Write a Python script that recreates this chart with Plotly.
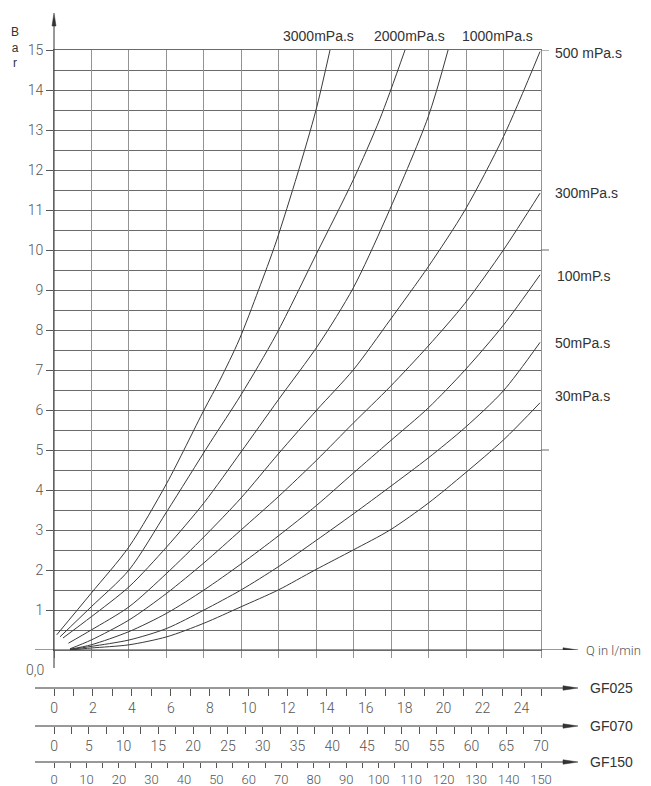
import plotly.graph_objects as go

# ---------------- data ----------------
# Q in l/min (GF025 scale), P in bar
q_3000 = [0.14, 1.91, 3.85, 5.79, 7.70, 8.52, 9.50, 10.50, 11.40, 12.50, 13.45, 14.17]
p_3000 = [0.38, 1.42, 2.58, 4.17, 6.00, 6.75, 7.75, 9.00, 10.20, 11.90, 13.50, 15.00]

q_2000 = [0.31, 1.91, 3.85, 5.79, 8.01, 9.60, 11.40, 13.49, 15.36, 16.74, 18.02]
p_2000 = [0.33, 1.08, 2.00, 3.46, 5.18, 6.38, 7.88, 9.92, 11.75, 13.29, 15.00]

q_1000 = [0.46, 1.91, 3.85, 5.79, 7.70, 9.60, 11.51, 13.60, 15.36, 17.00, 19.21, 20.23]
p_1000 = [0.30, 0.83, 1.58, 2.58, 3.68, 4.95, 6.25, 7.65, 9.05, 10.75, 13.33, 15.00]

q_500 = [0.74, 1.91, 3.85, 5.79, 7.70, 9.60, 11.51, 13.49, 15.36, 17.25, 19.21, 21.10, 23.07, 24.95]
p_500 = [0.17, 0.50, 1.08, 1.92, 2.83, 3.80, 4.90, 6.00, 7.00, 8.25, 9.58, 11.00, 12.83, 14.96]

q_300 = [0.82, 1.91, 3.85, 5.79, 7.70, 9.60, 11.51, 13.49, 15.36, 17.25, 19.21, 21.10, 23.07, 24.95]
p_300 = [0.03, 0.25, 0.75, 1.42, 2.18, 3.00, 3.83, 4.75, 5.67, 6.58, 7.60, 8.67, 10.00, 11.42]

q_100 = [0.82, 1.91, 3.85, 5.79, 7.70, 9.60, 11.51, 13.49, 15.36, 17.25, 19.21, 21.10, 23.07, 24.95]
p_100 = [0.02, 0.13, 0.46, 0.92, 1.50, 2.15, 2.85, 3.62, 4.42, 5.22, 6.05, 7.00, 8.12, 9.38]

q_50 = [0.82, 1.91, 3.85, 5.79, 7.70, 9.60, 11.51, 13.49, 15.36, 17.25, 19.21, 21.10, 23.07, 24.95]
p_50 = [0.01, 0.09, 0.25, 0.54, 1.00, 1.50, 2.08, 2.75, 3.40, 4.08, 4.80, 5.56, 6.48, 7.69]

q_30 = [0.85, 1.91, 3.85, 5.79, 7.70, 9.60, 11.51, 13.40, 15.36, 17.25, 19.21, 21.10, 23.07, 24.95]
p_30 = [0.00, 0.05, 0.13, 0.33, 0.67, 1.08, 1.50, 2.00, 2.50, 3.00, 3.67, 4.42, 5.25, 6.18]

curves = [
    (q_3000, p_3000), (q_2000, p_2000), (q_1000, p_1000), (q_500, p_500),
    (q_300, p_300), (q_100, p_100), (q_50, p_50), (q_30, p_30),
]

top_labels = ["3000mPa.s", "2000mPa.s", "1000mPa.s"]
right_labels = ["500 mPa.s", "300mPa.s", "100mP.s", "50mPa.s", "30mPa.s"]

y_ticks = [1, 2, 3, 4, 5, 6, 7, 8, 9, 10, 11, 12, 13, 14, 15]
gf025_labels = [0, 2, 4, 6, 8, 10, 12, 14, 16, 18, 20, 22, 24]
gf070_labels = [0, 5, 10, 15, 20, 25, 30, 35, 40, 45, 50, 55, 60, 65, 70]
gf150_labels = [0, 10, 20, 30, 40, 50, 60, 70, 80, 90, 100, 110, 120, 130, 140, 150]

Q_MAX = 25
P_MAX = 15
N_COLS = 13  # vertical grid columns

# ---------------- layout geometry (page pixels) ----------------
BODY = 8                   # default page margin of the html body
W, H = 651 - BODY, 786 - BODY
PLOT_L, PLOT_R, PLOT_T, PLOT_B = 54, 541, 50, 762   # paper box in page pixels
PW = PLOT_R - PLOT_L
PH = PLOT_B - PLOT_T

def px_x(px):
    return (px - PLOT_L) / PW

def px_y(py):
    return (PLOT_B - py) / PH

top_label_px = [(318, 36), (409, 36), (497, 36)]
right_label_px = [(553, 53), (553, 193), (555, 276), (553, 342.5), (553, 396)]

TICK_FONT = dict(family="Roboto", size=14, color="#555555", weight=300)
LABEL_FONT = dict(family="Liberation Sans", size=14, color="#333333")
LINE_C = "#333333"
HGRID = "#6a6a6a"
VGRID = "#939393"

fig = go.Figure()
for q, p in curves:
    fig.add_trace(go.Scatter(x=q, y=p, mode="lines",
                             line=dict(color="#3a3a3a", width=1, shape="spline", smoothing=0.8),
                             showlegend=False, hoverinfo="skip"))
for ax in ["x2", "x3", "x4"]:
    fig.add_trace(go.Scatter(x=[], y=[], xaxis=ax, yaxis="y", showlegend=False))

fig.update_layout(
    width=W, height=H,
    margin=dict(l=PLOT_L - BODY, r=W - (PLOT_R - BODY), t=PLOT_T - BODY, b=H - (PLOT_B - BODY),
                autoexpand=False),
    paper_bgcolor="white", plot_bgcolor="white",
    showlegend=False,
    xaxis=dict(
        range=[0, Q_MAX], domain=[0, 1], automargin=False,
        tickmode="array", tickvals=[i * Q_MAX / N_COLS for i in range(N_COLS + 1)],
        showticklabels=False, ticks="outside", ticklen=7, tickcolor=VGRID,
        showgrid=True, gridcolor=VGRID, gridwidth=1, zeroline=False,
        showline=True, mirror=True, linecolor=HGRID, linewidth=1,
    ),
    yaxis=dict(
        range=[0, P_MAX], domain=[px_y(650), 1], automargin=False,
        tickmode="array", tickvals=y_ticks, ticktext=[str(v) for v in y_ticks],
        ticks="outside", ticklen=7, tickcolor="#555555", tickfont=TICK_FONT,
        showgrid=True, gridcolor=HGRID, gridwidth=1, zeroline=False,
        minor=dict(dtick=0.5, tick0=0, showgrid=True, gridcolor=HGRID, ticks=""),
        showline=True, mirror=True, linecolor=VGRID, linewidth=1,
    ),
)

def free_axis(rng, labels, minor_dt, pos, tlen, fsize):
    return dict(
        range=rng, anchor="free", overlaying="x", position=pos, side="bottom", automargin=False,
        tickmode="array", tickvals=labels, ticktext=[str(v) for v in labels],
        ticks="outside", ticklen=tlen, tickcolor="#555555", tickfont=dict(TICK_FONT, size=fsize),
        minor=dict(dtick=minor_dt, tick0=0, ticks="outside", ticklen=tlen, tickcolor="#555555", showgrid=False),
        showgrid=False, zeroline=False, showline=False,
    )

axis_rows = [
    ("xaxis2", [0, 25], gf025_labels, 1, 688, "GF025", 7, 14),
    ("xaxis3", [0, 70], gf070_labels, 2.5, 726, "GF070", 7, 14),
    ("xaxis4", [0, 150], gf150_labels, 5, 762, "GF150", 5, 13),
]

shapes = []
annotations = []

def arrow_h(yref, yv):
    shapes.append(dict(type="line", xref="paper", yref=yref, x0=px_x(35), x1=px_x(570), y0=yv, y1=yv,
                       line=dict(color=LINE_C, width=1)))
    shapes.append(dict(type="path", xref="paper", yref=yref, xsizemode="pixel", ysizemode="pixel",
                       xanchor=px_x(578), yanchor=yv, path="M0,0 L-15,2.2 L-15,-2.2 Z",
                       fillcolor=LINE_C, line=dict(color=LINE_C, width=0.5)))

layout_axes = {}
for name, rng, labels, mdt, py, txt, tlen, fsize in axis_rows:
    pos = px_y(py)
    layout_axes[name] = free_axis(rng, labels, mdt, pos, tlen, fsize)
    arrow_h("paper", pos)
    annotations.append(dict(text=txt, xref="paper", yref="paper", x=px_x(588), y=pos, xanchor="left",
                            yanchor="middle", showarrow=False, font=LABEL_FONT))
fig.update_layout(**layout_axes)

# Q axis at P = 0
arrow_h("y", 0)
annotations.append(dict(text="Q in l/min", xref="paper", yref="y", x=px_x(584), y=0, xanchor="left",
                        yanchor="middle", showarrow=False, font=dict(TICK_FONT, size=13)))

# vertical P axis with arrow
shapes.append(dict(type="line", xref="paper", yref="paper", x0=0, x1=0, y0=px_y(668), y1=px_y(20),
                   line=dict(color=LINE_C, width=1)))
shapes.append(dict(type="path", xref="paper", yref="paper", xsizemode="pixel", ysizemode="pixel",
                   xanchor=0, yanchor=px_y(13), path="M0,0 L-2,-13 L2,-13 Z",
                   fillcolor=LINE_C, line=dict(color=LINE_C, width=0.5)))

# horizontal lines extending to the right at 5, 10, 15 bar
for pv in [5, 10, 15]:
    shapes.append(dict(type="line", xref="paper", yref="y", x0=1, x1=px_x(549), y0=pv, y1=pv,
                       line=dict(color=HGRID, width=1)))

# curve labels
for txt, (lx, ly) in zip(top_labels, top_label_px):
    annotations.append(dict(text=txt, x=px_x(lx), y=px_y(ly), xref="paper", yref="paper",
                            xanchor="center", yanchor="middle", showarrow=False, font=LABEL_FONT))
for txt, (lx, ly) in zip(right_labels, right_label_px):
    annotations.append(dict(text=txt, x=px_x(lx), y=px_y(ly), xref="paper", yref="paper",
                            xanchor="left", yanchor="middle", showarrow=False, font=LABEL_FONT))

# "B a r" unit (stacked letters) and origin label
annotations.append(dict(text="B<br>a<br>r", xref="paper", yref="paper", x=px_x(15), y=px_y(47),
                        xanchor="center", yanchor="middle", align="center", showarrow=False,
                        font=dict(LABEL_FONT, size=12)))
annotations.append(dict(text="0,0", xref="paper", yref="paper", x=px_x(35), y=px_y(670), xanchor="center",
                        yanchor="middle", showarrow=False, font=TICK_FONT))

fig.update_layout(shapes=shapes, annotations=annotations)

fig.write_html("out.html")
